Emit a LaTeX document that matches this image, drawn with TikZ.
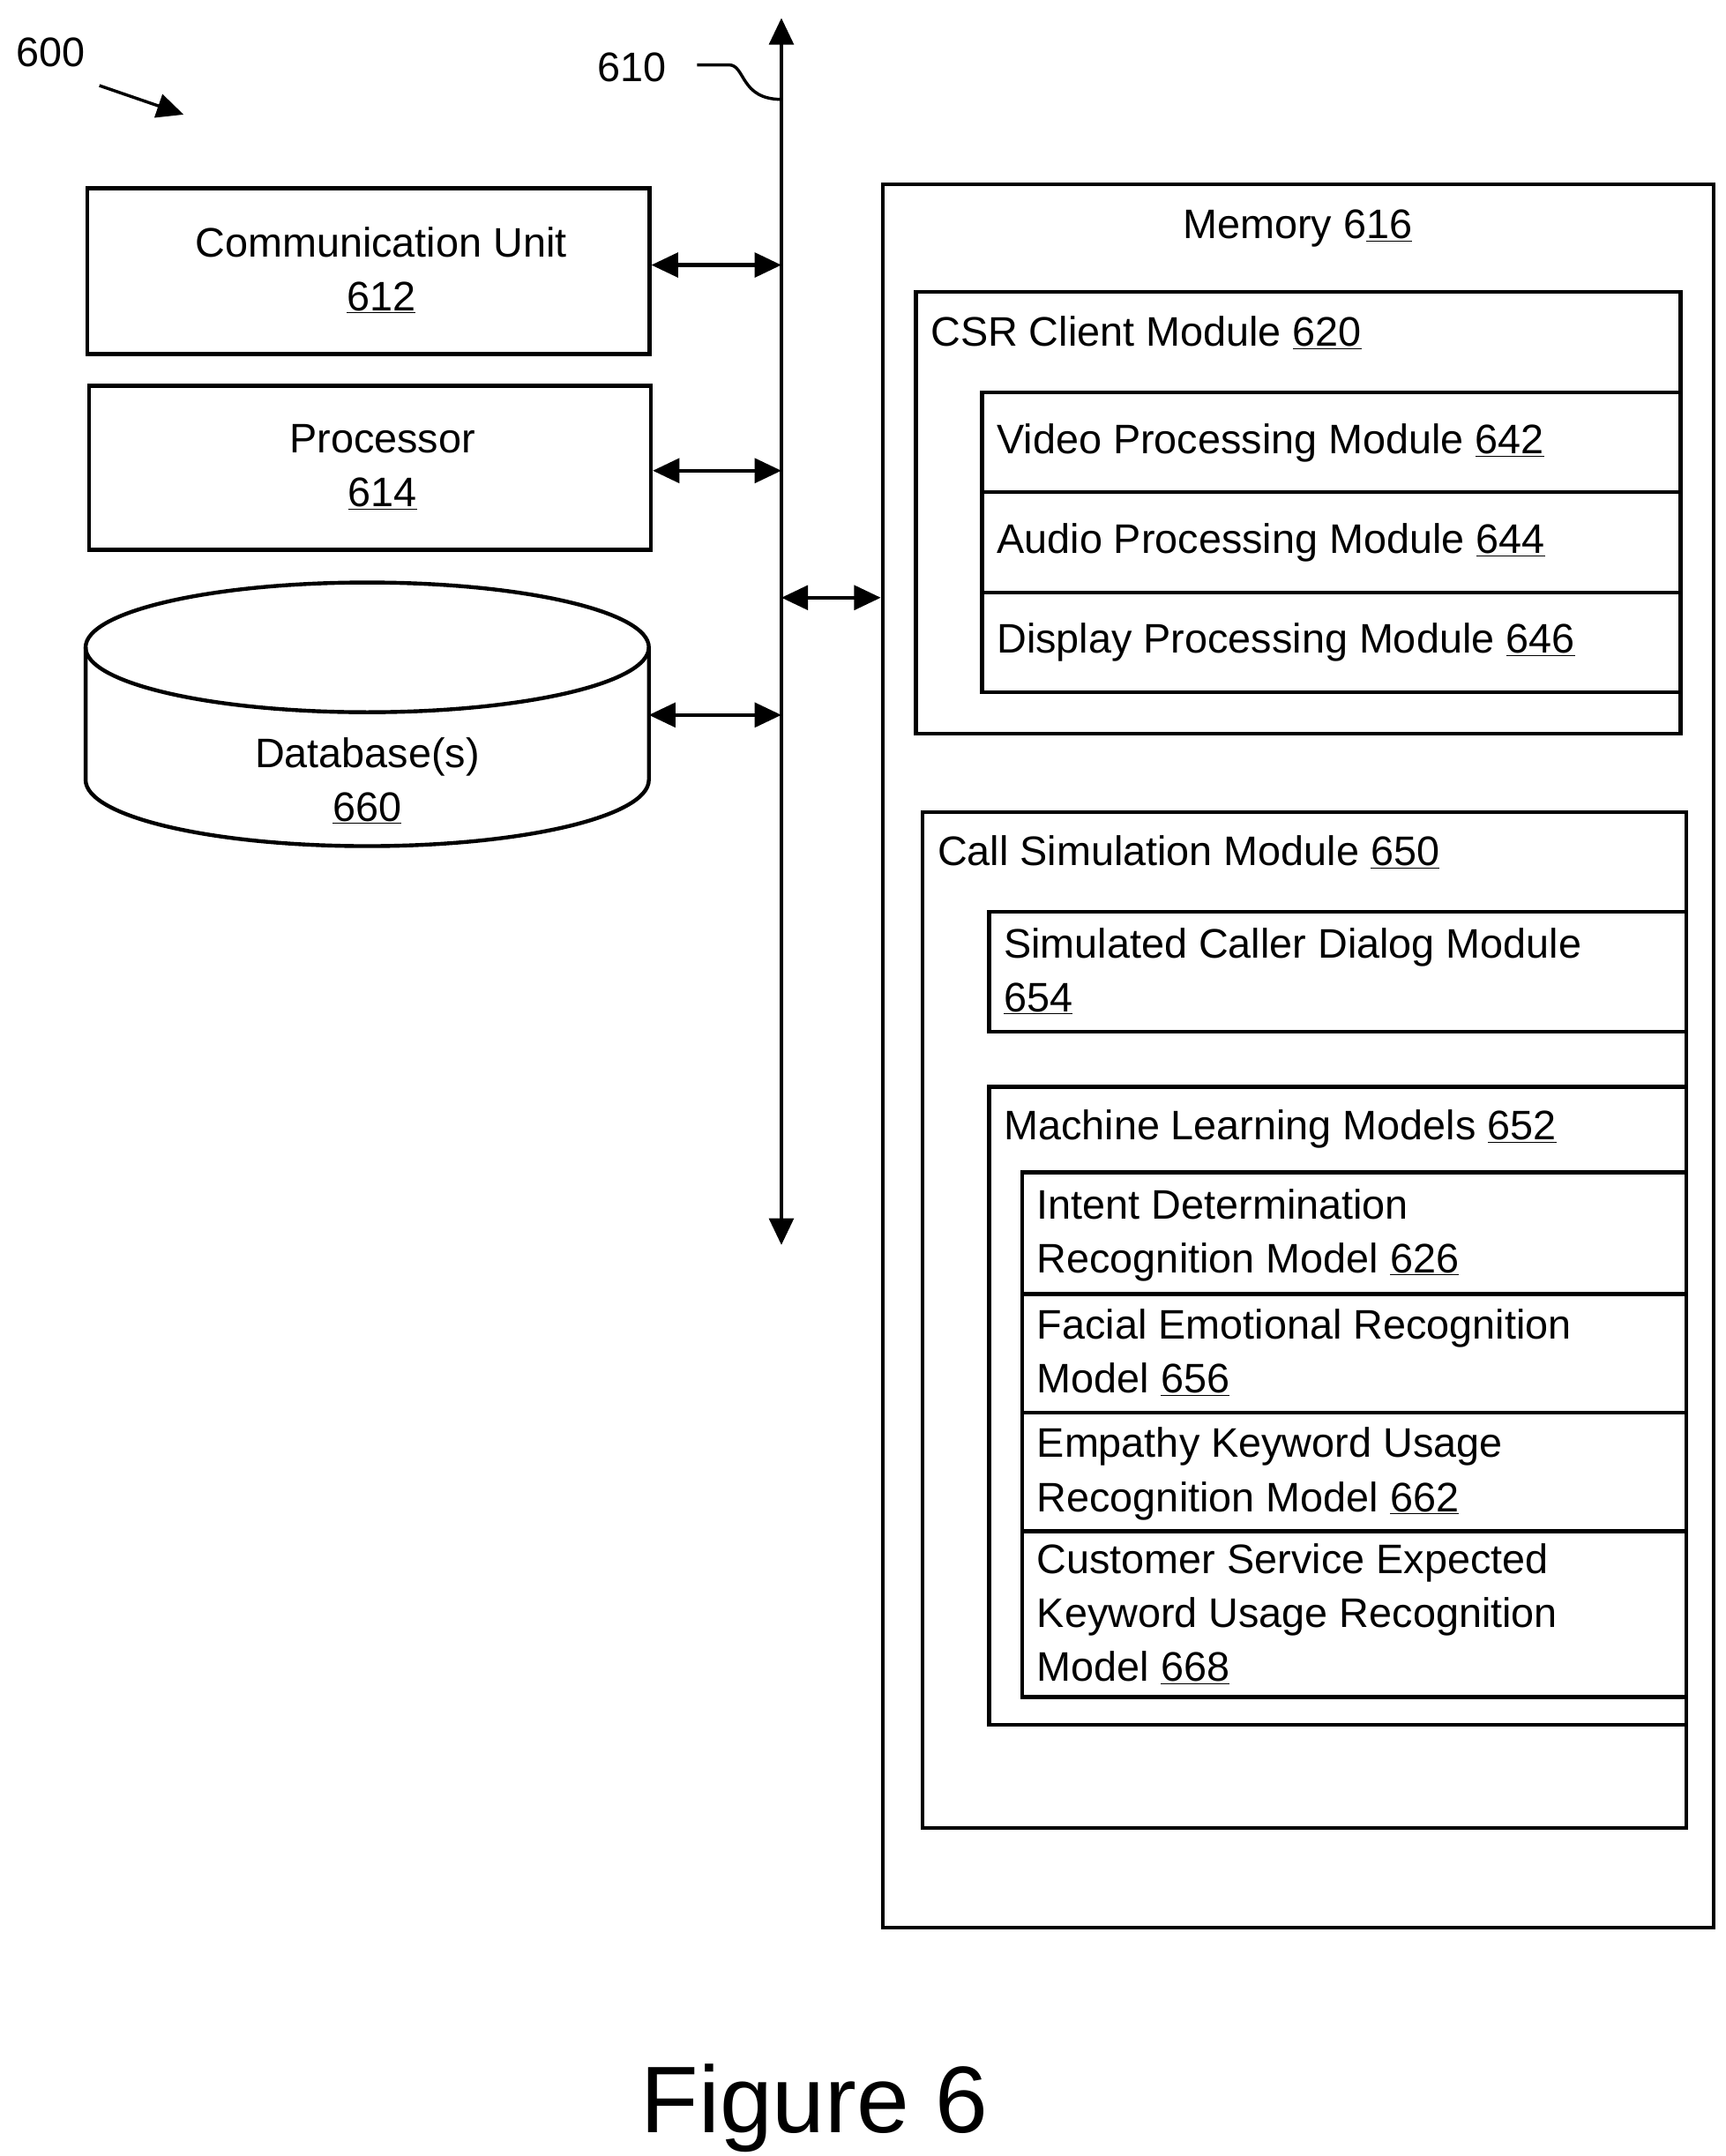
\documentclass[tikz,border=0pt]{standalone}
\usepackage{fontspec}
\setmainfont{Liberation Sans}
\usetikzlibrary{arrows.meta}
\begin{document}
\begin{tikzpicture}[x=0.04cm,y=-0.04cm,
  lw/.style={line width=3.2pt},
  box/.style={draw,lw,anchor=north west,inner sep=0pt},
  txt/.style={font=\fontsize{34}{40}\selectfont,inner sep=0pt},
  arr/.style={lw,-{Triangle[length=22pt,width=20pt]}},
  darr/.style={lw,{Triangle[length=22pt,width=20pt]}-{Triangle[length=22pt,width=20pt]}}]
\useasboundingbox (0,0) rectangle (1250,1562);
\newcommand{\bx}[5]{\node[box,minimum width=#4*0.04cm,minimum height=#5*0.04cm] (#1) at (#2,#3) {};}
% labels
\node[txt,anchor=base] (l600) at (37,48) {600};
\coordinate (a1) at (72,62); \coordinate (a2) at (133,83);
\draw[arr,line width=2.5pt] (a1) -- (a2);
\node[txt,anchor=base] (l610) at (458,59) {610};
\coordinate (b1) at (505,47); \coordinate (b2) at (566,72);
\draw[line width=2.5pt] (b1) -- (528,47) .. controls (540,47) and (536,72) .. (b2);
% bus
\coordinate (bt) at (566,13); \coordinate (bb) at (566,902);
\draw[darr] (bt) -- (bb);
% left boxes
\bx{cu}{62}{135}{407}{120}
\node[txt,anchor=base] (cut) at (276,186) {Communication Unit};
\node[txt,anchor=base] (cun) at (276,225) {\underline{612}};
\bx{pr}{63}{278}{407}{119}
\node[txt,anchor=base] (prt) at (277,328) {Processor};
\node[txt,anchor=base] (prn) at (277,367) {\underline{614}};
% database
\draw[lw,fill=white] (62,469) -- (62,565) arc[start angle=180,end angle=360,x radius=204,y radius=-48] -- (470,469);
\draw[lw] (266,469) ellipse[x radius=204,y radius=47];
\coordinate (db) at (470,518);
\node[txt,anchor=base] (dbt) at (266,556) {Database(s)};
\node[txt,anchor=base] (dbn) at (266,595) {\underline{660}};
% connectors
\coordinate (c1) at (566,192); \coordinate (c2) at (566,341); \coordinate (c3) at (566,518); \coordinate (c4) at (566,433);
\draw[darr] (cu.east|-c1) -- (c1);
\draw[darr] (pr.east|-c2) -- (c2);
\draw[darr] (db) -- (c3);
% memory
\bx{mem}{638}{132}{602}{1263}
\draw[darr] (c4) -- (mem.west|-c4);
\node[txt,anchor=base] (memt) at (940,173) {Memory 6\underline{16}};
\bx{csr}{662}{210}{554}{320}
\node[txt,anchor=base west] (csrt) at (674,251) {CSR Client Module \underline{620}};
\bx{vid}{710}{283}{506}{72}
\node[txt,anchor=base west] (vidt) at (722,329) {Video Processing Module \underline{642}};
\bx{aud}{710}{355}{506}{73}
\node[txt,anchor=base west] (audt) at (722,401) {Audio Processing Module \underline{644}};
\bx{dis}{710}{428}{506}{72}
\node[txt,anchor=base west] (dist) at (722,473) {Display Processing Module \underline{646}};
\bx{cs}{667}{587}{553}{736}
\node[txt,anchor=base west] (cst) at (679,627) {Call Simulation Module \underline{650}};
\bx{scd}{715}{659}{505}{87}
\node[txt,anchor=base west] (scdt) at (727,694) {Simulated Caller Dialog Module};
\node[txt,anchor=base west] (scdn) at (727,733) {\underline{654}};
\bx{ml}{715}{786}{505}{462}
\node[txt,anchor=base west] (mlt) at (727,826) {Machine Learning Models \underline{652}};
\bx{m1}{739}{848}{481}{88}
\node[txt,anchor=base west] (m1a) at (751,883) {Intent Determination};
\node[txt,anchor=base west] (m1b) at (751,922) {Recognition Model \underline{626}};
\bx{m2}{739}{936}{481}{86}
\node[txt,anchor=base west] (m2a) at (751,970) {Facial Emotional Recognition};
\node[txt,anchor=base west] (m2b) at (751,1009) {Model \underline{656}};
\bx{m3}{739}{1022}{481}{86}
\node[txt,anchor=base west] (m3a) at (751,1056) {Empathy Keyword Usage};
\node[txt,anchor=base west] (m3b) at (751,1095) {Recognition Model \underline{662}};
\bx{m4}{739}{1108}{481}{120}
\node[txt,anchor=base west] (m4a) at (751,1140) {Customer Service Expected};
\node[txt,anchor=base west] (m4b) at (751,1179) {Keyword Usage Recognition};
\node[txt,anchor=base west] (m4c) at (751,1218) {Model \underline{668}};
\node[inner sep=0pt,anchor=base,font=\fontsize{78}{90}\selectfont] (fig) at (590,1545) {Figure 6};
\end{tikzpicture}
\end{document}
